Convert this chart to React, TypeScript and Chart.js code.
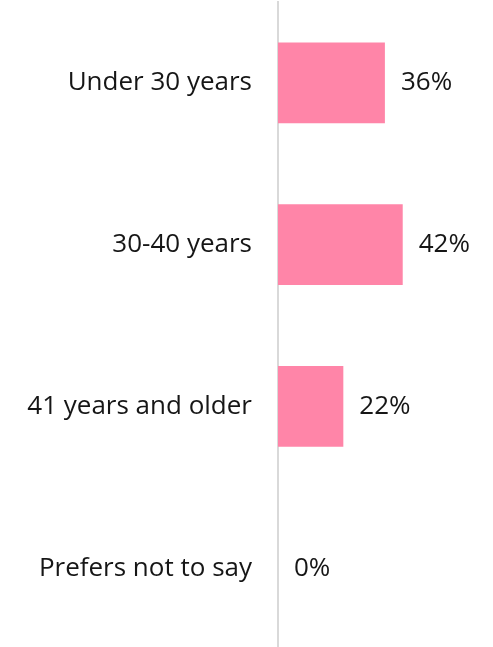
import React, { useEffect, useRef } from "react";
import { Chart, registerables } from "chart.js";

Chart.register(...registerables);

const categories = ["Under 30 years", "30-40 years", "41 years and older", "Prefers not to say"];
const values = [36, 42, 22, 0];
const valueLabels = ["36%", "42%", "22%", "0%"];

const FONT = "'Open Sans', Lato, sans-serif";
const FONT_SIZE = 26;

export default function App() {
  const ref = useRef<HTMLCanvasElement | null>(null);
  useEffect(() => {
    document.body.style.margin = "0";
    const ctx = ref.current!.getContext("2d")!;
    const labelPlugin = {
      id: "valueLabels",
      afterDatasetsDraw(chart: any) {
        const c = chart.ctx;
        const meta = chart.getDatasetMeta(0);
        c.save();
        c.font = `${FONT_SIZE}px ${FONT}`;
        c.fillStyle = "#161616";
        c.textAlign = "left";
        c.textBaseline = "middle";
        meta.data.forEach((bar: any, i: number) => {
          c.fillText(valueLabels[i], bar.x + 16, bar.y);
        });
        c.restore();
      },
    };
    const chart = new Chart(ctx, {
      type: "bar",
      data: {
        labels: categories,
        datasets: [
          {
            data: values,
            backgroundColor: "#ff85a8",
            borderWidth: 0,
            categoryPercentage: 1,
            barPercentage: 0.5,
          },
        ],
      },
      options: {
        indexAxis: "y",
        animation: false,
        responsive: false,
        maintainAspectRatio: false,
        layout: { padding: { top: 2, right: 0, bottom: 0, left: 0 } },
        plugins: { legend: { display: false }, tooltip: { enabled: false } },
        scales: {
          x: { display: false, min: 0, max: 72.4, grid: { display: false } },
          y: {
            grid: { display: false, drawTicks: false },
            border: { display: true, color: "#d9d9d9", width: 2 },
            ticks: {
              color: "#161616",
              font: { family: FONT, size: FONT_SIZE },
              padding: 26,
            },
            afterFit(scale: any) {
              scale.width = 278;
              scale.paddingTop = 0;
              scale.paddingBottom = 0;
            },
          },
        },
      },
      plugins: [labelPlugin],
    });
    return () => chart.destroy();
  }, []);
  return (
    <div style={{ position: "fixed", left: 0, top: 0, width: 493, height: 649, background: "#fff" }}>
      <canvas ref={ref} width={493} height={649} style={{ display: "block" }} />
    </div>
  );
}
